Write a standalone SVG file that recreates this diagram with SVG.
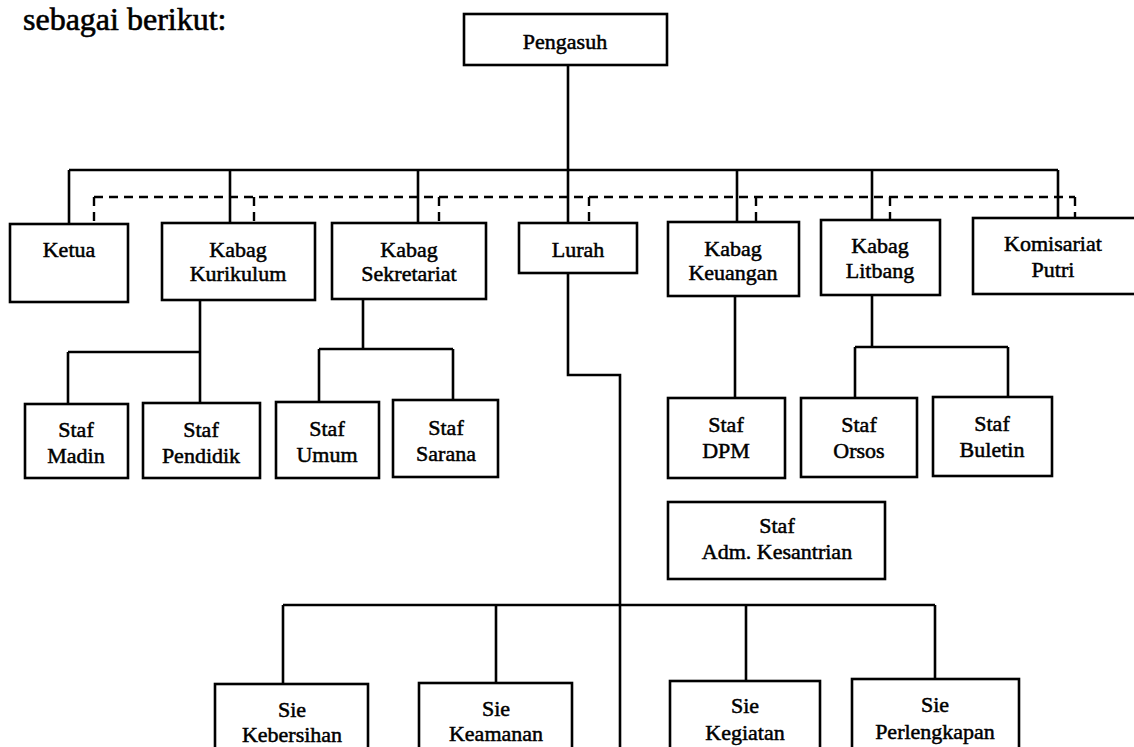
<svg xmlns="http://www.w3.org/2000/svg" width="1134" height="747" viewBox="0 0 1134 747">
<style>
.box{fill:#fff;stroke:#000;stroke-width:2.6}
.ln{fill:none;stroke:#000;stroke-width:2.6}
.dash{fill:none;stroke:#000;stroke-width:2.4;stroke-dasharray:9 6}
text{font-family:'Liberation Serif','DejaVu Serif',serif;font-size:22px;font-weight:normal;fill:#000;stroke:#000;stroke-width:0.5;text-anchor:middle}
.title{font-size:32px;text-anchor:start;stroke-width:0.6}
</style>
<rect width="1134" height="747" fill="#fff"/>
<text class="title" x="23" y="30">sebagai berikut:</text>
<g id="connectors">
<path class="ln" d="M568 65V170M69 170H1058M69 170V224M230 170V223M418 170V223M568 170V223M737 170V222M872 170V220M1058 170V218"/>
<path class="dash" d="M94 197H1075M94 197V224M254 197V223M439 197V223M589 197V223M756 197V222M890 197V220M1075 197V218"/>
<path class="ln" d="M200 300V352M68 352H200M68 352V404M200 352V403"/>
<path class="ln" d="M363 299V349M319 349H453M319 349V402M453 349V400"/>
<path class="ln" d="M735 296V398"/>
<path class="ln" d="M872 295V347M855 347H1008M855 347V398M1008 347V397"/>
<path class="ln" d="M568 273V375H620V747"/>
<path class="ln" d="M283 605H935M283 605V684M496 605V683M746 605V681M935 605V679"/>
</g>
<g id="pengasuh"><rect class="box" x="464" y="14" width="203" height="51"/><text x="565" y="49">Pengasuh</text></g>
<g id="ketua"><rect class="box" x="10" y="224" width="118" height="78"/><text x="69" y="257">Ketua</text></g>
<g id="kabag-kurikulum"><rect class="box" x="162" y="223" width="153" height="77"/><text x="238" y="257">Kabag</text><text x="238" y="281">Kurikulum</text></g>
<g id="kabag-sekretariat"><rect class="box" x="332" y="223" width="154" height="76"/><text x="409" y="257">Kabag</text><text x="409" y="281">Sekretariat</text></g>
<g id="lurah"><rect class="box" x="519" y="223" width="118" height="50"/><text x="578" y="257">Lurah</text></g>
<g id="kabag-keuangan"><rect class="box" x="668" y="222" width="131" height="74"/><text x="733" y="256">Kabag</text><text x="733" y="280">Keuangan</text></g>
<g id="kabag-litbang"><rect class="box" x="821" y="220" width="119" height="75"/><text x="880" y="253">Kabag</text><text x="880" y="278">Litbang</text></g>
<g id="komisariat-putri"><rect class="box" x="973" y="218" width="170" height="76"/><text x="1053" y="251">Komisariat</text><text x="1053" y="277">Putri</text></g>
<g id="staf-madin"><rect class="box" x="25" y="404" width="103" height="74"/><text x="76" y="437">Staf</text><text x="76" y="463">Madin</text></g>
<g id="staf-pendidik"><rect class="box" x="143" y="403" width="117" height="75"/><text x="201" y="437">Staf</text><text x="201" y="463">Pendidik</text></g>
<g id="staf-umum"><rect class="box" x="276" y="402" width="103" height="76"/><text x="327" y="436">Staf</text><text x="327" y="462">Umum</text></g>
<g id="staf-sarana"><rect class="box" x="393" y="400" width="105" height="77"/><text x="446" y="435">Staf</text><text x="446" y="461">Sarana</text></g>
<g id="staf-dpm"><rect class="box" x="668" y="398" width="117" height="80"/><text x="726" y="432">Staf</text><text x="726" y="458">DPM</text></g>
<g id="staf-orsos"><rect class="box" x="801" y="398" width="116" height="79"/><text x="859" y="432">Staf</text><text x="859" y="458">Orsos</text></g>
<g id="staf-buletin"><rect class="box" x="933" y="397" width="119" height="79"/><text x="992" y="431">Staf</text><text x="992" y="457">Buletin</text></g>
<g id="staf-adm"><rect class="box" x="668" y="502" width="217" height="77"/><text x="777" y="533">Staf</text><text x="777" y="559">Adm. Kesantrian</text></g>
<g id="sie-kebersihan"><rect class="box" x="215" y="684" width="153" height="80"/><text x="292" y="717">Sie</text><text x="292" y="742">Kebersihan</text></g>
<g id="sie-keamanan"><rect class="box" x="419" y="683" width="153" height="80"/><text x="496" y="716">Sie</text><text x="496" y="741">Keamanan</text></g>
<g id="sie-kegiatan"><rect class="box" x="670" y="681" width="150" height="80"/><text x="745" y="713">Sie</text><text x="745" y="740">Kegiatan</text></g>
<g id="sie-perlengkapan"><rect class="box" x="852" y="679" width="167" height="80"/><text x="935" y="712">Sie</text><text x="935" y="739">Perlengkapan</text></g>
</svg>
